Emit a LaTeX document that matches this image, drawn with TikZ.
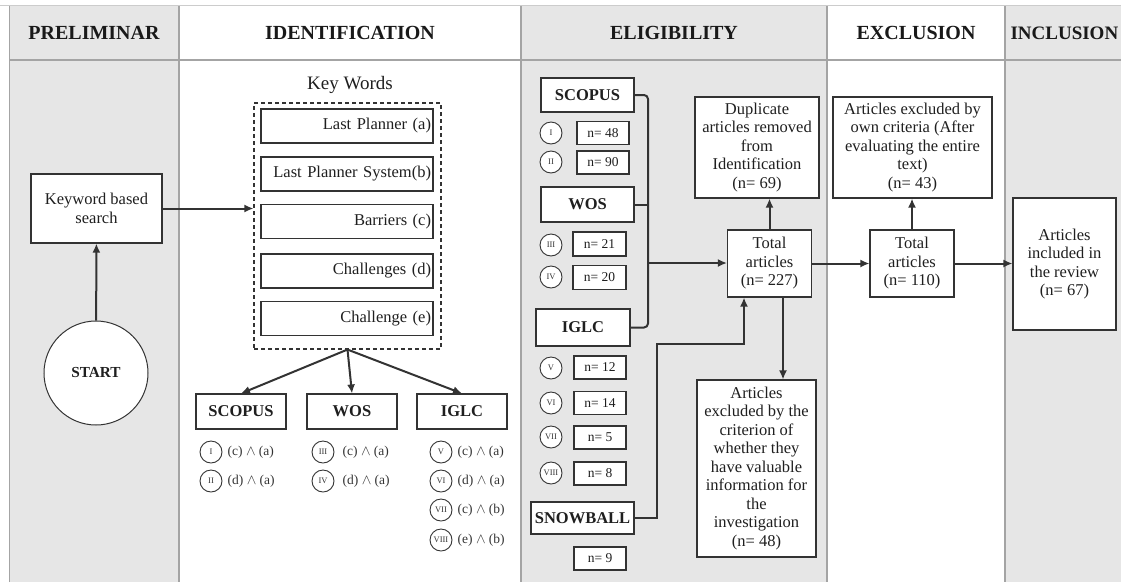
\documentclass[tikz,border=0pt]{standalone}
\usepackage{fontspec}
\setmainfont{Liberation Serif}
\usetikzlibrary{arrows.meta,positioning}

\definecolor{panelgray}{HTML}{E6E6E6}
\definecolor{inkgray}{HTML}{333333}
\definecolor{rulegray}{HTML}{A4A4A4}

\begin{document}
\begin{tikzpicture}[x=1pt,y=-1pt,>={Latex[length=9pt,width=8pt]},
  box/.style={draw=inkgray,line width=1.1pt,fill=white,align=center,inner sep=2pt,
    text=black!88,font=\fontsize{16.5}{18.5}\selectfont},
  kwbox/.style={box,text width=168pt,align=right,minimum height=34pt},
  dbbox/.style={box,font=\fontsize{16.5}{18.5}\selectfont\bfseries,minimum height=35pt},
  numbox/.style={box,font=\fontsize{13.5}{15}\selectfont,minimum width=52pt,minimum height=23pt},
  roman/.style={circle,draw=inkgray,line width=0.9pt,fill=white,minimum size=22pt,
    inner sep=0pt,text=black!80,font=\fontsize{8.5}{9}\selectfont},
  combo/.style={anchor=west,inner sep=0pt,text=black!80,font=\fontsize{13.5}{15}\selectfont},
  hdr/.style={text=black!90,font=\fontsize{20}{22}\selectfont\bfseries},
  conn/.style={draw=inkgray,line width=2pt}]
  \useasboundingbox (0,0) rectangle (1121,582);

  % Column panels
  \fill[panelgray] (9,6) rectangle (179,582);
  \fill[panelgray] (521,6) rectangle (827,582);
  \fill[panelgray] (1005,6) rectangle (1121,582);

  % Frame, header rule and column rules
  \draw[black!20,line width=1pt] (0,5) -- (1121,5);
  \draw[rulegray,line width=1pt] (9,582) -- (9,6);
  \draw[rulegray,line width=1.2pt] (9,60) -- (1121,60);
  \draw[rulegray,line width=1.2pt] (179,6) -- (179,582);
  \draw[rulegray,line width=1.2pt] (521,6) -- (521,582);
  \draw[rulegray,line width=1.2pt] (827,6) -- (827,582);
  \draw[rulegray,line width=1.2pt] (1005,6) -- (1005,582);

  % Headers
  \node[hdr] (hprel) at (94,33) {PRELIMINAR};
  \node[hdr] (hiden) at (350,33) {IDENTIFICATION};
  \node[hdr] (helig) at (674,33) {ELIGIBILITY};
  \node[hdr] (hexcl) at (916,33) {EXCLUSION};
  \node[hdr,anchor=west,font=\fontsize{19}{21}\selectfont\bfseries] (hincl) at (1007,33) {INCLUSION};

  % Preliminar
  \node[box,minimum width=131pt,minimum height=69pt] (kwsearch) at (96.5,208.5) {Keyword based\\search};
  \node[circle,draw=inkgray,line width=1pt,fill=white,minimum size=104pt,inner sep=0pt,
    text=black!88,font=\fontsize{15.3}{17}\selectfont\bfseries] (start) at (96,373) {START};
  \draw[conn,->] (start) -- (kwsearch);

  % Key words
  \node[text=black!88,font=\fontsize{19}{21}\selectfont] (kwtitle) at (350,85) {Key Words};
  \node[draw=inkgray,dash pattern=on 4pt off 3pt,line width=1.1pt,
    minimum width=187pt,minimum height=246pt] (kwgroup) at (347.5,226) {};
  \node[kwbox] (kwa) at (347,126) {Last Planner (a)};
  \node[kwbox] (kwb) at (347,174) {Last Planner System(b)};
  \node[kwbox] (kwc) at (347,221.5) {Barriers (c)};
  \node[kwbox] (kwd) at (347,271) {Challenges (d)};
  \node[kwbox] (kwe) at (347,318.5) {Challenge (e)};
  \draw[conn,->] (kwsearch.east) -- (kwsearch.east -| kwgroup.west);

  % Databases of the identification
  \node[dbbox,minimum width=90pt] (iscopus) at (241,411.5) {SCOPUS};
  \node[dbbox,minimum width=90pt] (iwos) at (352,411.5) {WOS};
  \node[dbbox,minimum width=90pt] (iiglc) at (462,411.5) {IGLC};
  \draw[conn,->] (kwgroup.south) -- (iscopus.north);
  \draw[conn,->] (kwgroup.south) -- (iwos.north);
  \draw[conn,->] (kwgroup.south) -- (iiglc.north);

  % Search strings
  \node[roman] (ci1) at (211,452) {I};
  \node[roman] (ci2) at (211,481) {II};
  \node[combo] (fi1) at ([xshift=5pt]ci1.east) {(c) $\wedge$ (a)};
  \node[combo] (fi2) at ([xshift=5pt]ci2.east) {(d) $\wedge$ (a)};
  \node[roman] (ci3) at (323,452) {III};
  \node[roman] (ci4) at (323,481) {IV};
  \node[combo] (fi3) at ([xshift=8pt]ci3.east) {(c) $\wedge$ (a)};
  \node[combo] (fi4) at ([xshift=8pt]ci4.east) {(d) $\wedge$ (a)};
  \node[roman] (ci5) at (441,452) {V};
  \node[roman] (ci6) at (441,481) {VI};
  \node[roman] (ci7) at (441,510) {VII};
  \node[roman] (ci8) at (441,540) {VIII};
  \node[combo] (fi5) at ([xshift=5pt]ci5.east) {(c) $\wedge$ (a)};
  \node[combo] (fi6) at ([xshift=5pt]ci6.east) {(d) $\wedge$ (a)};
  \node[combo] (fi7) at ([xshift=5pt]ci7.east) {(c) $\wedge$ (b)};
  \node[combo] (fi8) at ([xshift=5pt]ci8.east) {(e) $\wedge$ (b)};

  % Eligibility sources
  \node[dbbox,minimum width=93pt,minimum height=34pt] (escopus) at (587.5,95) {SCOPUS};
  \node[roman] (ce1) at (551,133) {I};
  \node[numbox] (n48) at (603,133) {n= 48};
  \node[roman] (ce2) at (551,162) {II};
  \node[numbox] (n90) at (603,162.5) {n= 90};
  \node[dbbox,minimum width=93pt] (ewos) at (587.5,204.5) {WOS};
  \node[roman] (ce3) at (551,245) {III};
  \node[numbox,minimum width=53pt,minimum height=24pt] (n21) at (599.5,244) {n= 21};
  \node[roman] (ce4) at (551,277) {IV};
  \node[numbox,minimum width=53pt,minimum height=24pt] (n20) at (599.5,277.5) {n= 20};
  \node[dbbox,minimum width=94pt,minimum height=37pt] (eiglc) at (583,327.5) {IGLC};
  \node[roman] (ce5) at (551,368) {V};
  \node[numbox] (n12) at (600,367.5) {n= 12};
  \node[roman] (ce6) at (551,403) {VI};
  \node[numbox] (n14) at (600,403) {n= 14};
  \node[roman] (ce7) at (551,437) {VII};
  \node[numbox] (n5) at (600,437.5) {n= 5};
  \node[roman] (ce8) at (551,473) {VIII};
  \node[numbox] (n8) at (600,473.5) {n= 8};
  \node[dbbox,minimum width=103pt,minimum height=32pt] (esnow) at (582.5,518) {SNOWBALL};
  \node[numbox] (n9) at (600,558.5) {n= 9};

  % Totals and removed articles
  \node[box,minimum width=84pt,minimum height=67pt] (total1) at (769.5,263.5) {Total\\articles\\(n= 227)};
  \node[box,minimum width=124pt,minimum height=101pt] (dupl) at (757,147.5)
    {Duplicate\\articles removed\\from\\Identification\\(n= 69)};
  \node[box,minimum width=119pt,minimum height=177pt] (critx) at (756.5,468.5)
    {Articles\\excluded by the\\criterion of\\whether they\\have valuable\\information for\\the\\investigation\\(n= 48)};
  \node[box,minimum width=84pt,minimum height=67pt] (total2) at (912,263.5) {Total\\articles\\(n= 110)};
  \node[box,minimum width=159pt,minimum height=101pt] (ownx) at (912.5,147.5)
    {Articles excluded by\\own criteria (After\\evaluating the entire\\text)\\(n= 43)};
  \node[box,minimum width=103pt,minimum height=132pt] (incl) at (1064.5,264)
    {Articles\\included in\\the review\\(n= 67)};

  % Bus from the sources
  \coordinate (busj) at (648,263);
  \coordinate (sbturn) at (657,344);
  \coordinate (sbin) at ([xshift=-25.5pt]total1.south);
  \coordinate (tdown) at ([xshift=13.5pt]total1.south);
  \draw[conn,rounded corners=4pt] (escopus.east) -- (busj |- escopus.east) |- (eiglc.east);
  \draw[conn,rounded corners=4pt] (ewos.east) -- (busj |- ewos.east);
  \draw[conn,->] (busj) -- (busj -| total1.west);
  \draw[conn,->] (esnow.east) -| (sbturn) -| (sbin);

  % Flow to the review
  \draw[conn,->] (total1.north) -- (total1.north |- dupl.south);
  \draw[conn,->] (tdown) -- (tdown |- critx.north);
  \draw[conn,->] (total1.east) -- (total2.west);
  \draw[conn,->] (total2.north) -- (total2.north |- ownx.south);
  \draw[conn,->] (total2.east) -- (total2.east -| incl.west);
\end{tikzpicture}
\end{document}
